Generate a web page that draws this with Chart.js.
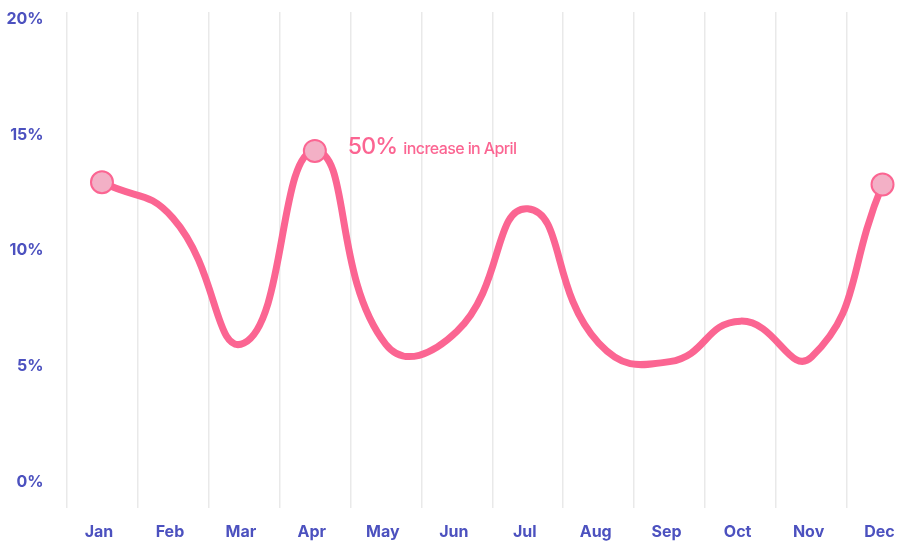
<!DOCTYPE html>
<html>
<head>
<meta charset="utf-8">
<script src="https://cdn.jsdelivr.net/npm/chart.js@4/dist/chart.umd.min.js"></script>
<style>
  html, body { margin: 0; padding: 0; background: #fff; overflow: hidden; }
  canvas { display: block; }
</style>
</head>
<body>
<canvas id="growth" width="918" height="543"></canvas>
<script>
const months = ['Jan', 'Feb', 'Mar', 'Apr', 'May', 'Jun', 'Jul', 'Aug', 'Sep', 'Oct', 'Nov', 'Dec'];
const rates = [12.95, 11.4, 6.0, 14.3, 5.95, 6.5, 11.8, 6.0, 5.2, 6.95, 5.4, 12.85];
const markedMonths = ['Jan', 'Apr', 'Dec'];
const yTicks = [0, 5, 10, 15, 20];
const noteMonth = 'Apr';
const noteBig = '50%';
const noteSmall = 'increase in April';

const pink = '#fb6592';
const indigo = '#4c51bf';

// text next to the highlighted month
const notePlugin = {
  id: 'note',
  afterDatasetsDraw(chart) {
    const idx = months.indexOf(noteMonth);
    const pt = chart.getDatasetMeta(0).data[idx];
    const ctx = chart.ctx;
    ctx.save();
    ctx.fillStyle = pink;
    ctx.textBaseline = 'alphabetic';
    ctx.textAlign = 'left';
    const x = pt.x + 33;
    const y = pt.y + 3;
    ctx.font = '500 23px Inter';
    ctx.letterSpacing = '-0.8px';
    ctx.fillText(noteBig, x, y);
    const w = ctx.measureText(noteBig).width;
    ctx.font = '500 16px Inter';
    ctx.letterSpacing = '-0.6px';
    ctx.fillText(noteSmall, x + w + 6, y);
    ctx.restore();
  }
};

new Chart(document.getElementById('growth'), {
  type: 'line',
  data: {
    labels: months,
    datasets: [{
      data: rates,
      borderColor: pink,
      borderWidth: 7,
      tension: 0.5,
      pointRadius: months.map(m => markedMonths.includes(m) ? 11 : 0),
      pointHoverRadius: months.map(m => markedMonths.includes(m) ? 11 : 0),
      pointBackgroundColor: '#f3b0c6',
      pointBorderColor: pink,
      pointBorderWidth: 2,
      fill: false
    }]
  },
  options: {
    responsive: false,
    animation: false,
    clip: false,
    layout: { autoPadding: false, padding: { top: 12, left: 0, right: 0, bottom: 0 } },
    plugins: {
      legend: { display: false },
      tooltip: { enabled: false }
    },
    scales: {
      x: {
        offset: true,
        grid: { offset: true, drawTicks: false, color: '#e9e9e9', lineWidth: 1.5 },
        border: { display: false },
        ticks: {
          color: indigo,
          padding: 15,
          labelOffset: -3,
          font: { family: 'Inter', size: 16, weight: '700' }
        },
        afterFit(scale) { scale.height = 35; }
      },
      y: {
        min: -1.12,
        max: 20.3,
        grid: { display: false, drawTicks: false },
        border: { display: false },
        ticks: {
          color: indigo,
          padding: 23,
          font: { family: 'Inter', size: 16, weight: '700' },
          callback: v => v + '%'
        },
        afterBuildTicks(scale) { scale.ticks = yTicks.map(v => ({ value: v })); },
        afterFit(scale) {
          scale.width = 66.5;
          // the label gap should not push the plot area down
          scale.paddingTop = 0;
          scale.paddingBottom = 0;
        }
      }
    }
  },
  plugins: [notePlugin]
});
</script>
</body>
</html>
